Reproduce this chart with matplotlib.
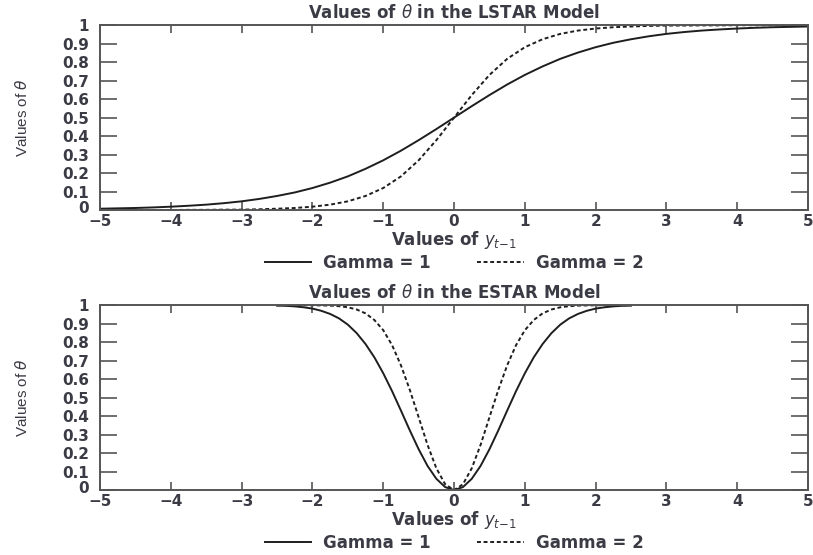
import numpy as np
import matplotlib
matplotlib.use("Agg")
import matplotlib.pyplot as plt
from matplotlib.transforms import ScaledTranslation

# LSTAR: values, x from -5 to 5 in steps of 0.25
lstar_x = np.linspace(-5, 5, 41)
lstar_g1 = [0.007, 0.009, 0.011, 0.014, 0.018, 0.023, 0.029, 0.037, 0.047, 0.060,
            0.076, 0.095, 0.119, 0.148, 0.182, 0.223, 0.269, 0.321, 0.378, 0.438,
            0.500,
            0.562, 0.622, 0.679, 0.731, 0.777, 0.818, 0.852, 0.881, 0.905, 0.924,
            0.940, 0.953, 0.963, 0.971, 0.977, 0.982, 0.986, 0.989, 0.991, 0.993]
lstar_g2 = [0.000, 0.000, 0.000, 0.000, 0.000, 0.001, 0.001, 0.002, 0.002, 0.004,
            0.007, 0.011, 0.018, 0.029, 0.047, 0.076, 0.119, 0.182, 0.269, 0.378,
            0.500,
            0.622, 0.731, 0.818, 0.881, 0.924, 0.953, 0.971, 0.982, 0.989, 0.993,
            0.996, 0.998, 0.998, 0.999, 0.999, 1.000, 1.000, 1.000, 1.000, 1.000]

# ESTAR: values, x from -2.5 to 2.5 in steps of 0.125
estar_x = np.linspace(-2.5, 2.5, 41)
estar_g1 = [0.998, 0.997, 0.994, 0.989, 0.982, 0.970, 0.953, 0.929, 0.895, 0.849,
            0.790, 0.718, 0.632, 0.535, 0.430, 0.323, 0.221, 0.131, 0.061, 0.016,
            0.000,
            0.016, 0.061, 0.131, 0.221, 0.323, 0.430, 0.535, 0.632, 0.718, 0.790,
            0.849, 0.895, 0.929, 0.953, 0.970, 0.982, 0.989, 0.994, 0.997, 0.998]
estar_g2 = [1.000, 1.000, 1.000, 1.000, 1.000, 0.999, 0.998, 0.995, 0.989, 0.977,
            0.956, 0.920, 0.865, 0.784, 0.675, 0.542, 0.394, 0.245, 0.118, 0.031,
            0.000,
            0.031, 0.118, 0.245, 0.394, 0.542, 0.675, 0.784, 0.865, 0.920, 0.956,
            0.977, 0.989, 0.995, 0.998, 0.999, 1.000, 1.000, 1.000, 1.000, 1.000]

xticks = [-5, -4, -3, -2, -1, 0, 1, 2, 3, 4, 5]
xtick_labels = ["\u22125", "\u22124", "\u22123", "\u22122", "\u22121", "0", "1", "2", "3", "4", "5"]
yticks = [0, 0.1, 0.2, 0.3, 0.4, 0.5, 0.6, 0.7, 0.8, 0.9, 1]
ytick_labels = ["0", "0.1", "0.2", "0.3", "0.4", "0.5", "0.6", "0.7", "0.8", "0.9", "1"]

txt = "#3b3b45"
line_col = "#1e1e1e"
plt.rcParams["font.family"] = ["DejaVu Sans"]
plt.rcParams["mathtext.fontset"] = "dejavusans"

fig = plt.figure(figsize=(8.13, 5.55), dpi=100)
ax_top = fig.add_axes([0.123, 0.6216, 0.871, 0.333])
ax_bot = fig.add_axes([0.123, 0.117, 0.871, 0.333])


def style(ax, title):
    ax.set_xlim(-5, 5)
    ax.set_ylim(0, 1)
    ax.set_xticks(xticks)
    ax.set_xticklabels(xtick_labels)
    ax.set_yticks(yticks)
    ax.set_yticklabels(ytick_labels)
    ax.tick_params(axis="x", direction="in", length=6, width=1.2, color="#555555",
                   top=True, pad=3, labelsize=11, labelcolor=txt)
    ax.tick_params(axis="y", direction="in", length=12, width=1.2, color="#555555",
                   right=True, pad=8, labelsize=11, labelcolor=txt)
    for lab in ax.get_xticklabels() + ax.get_yticklabels():
        lab.set_fontweight("bold")
    # nudge the 0 at the origin up a little so it clears the -5 below it
    zero = ax.get_yticklabels()[0]
    zero.set_transform(zero.get_transform() + ScaledTranslation(0, 2.5 / 72, fig.dpi_scale_trans))
    for sp in ax.spines.values():
        sp.set_color("#555555")
        sp.set_linewidth(1.4)
    ax.set_title(title, fontsize=12, fontweight="bold", color=txt, pad=5)
    ax.set_xlabel(r"Values of $y_{t\!-\!1}$", fontsize=12, fontweight="bold", color=txt)
    ax.xaxis.set_label_coords(0.5, -0.16)
    ax.xaxis.label.set_va("center")
    ax.set_ylabel(r"Values of $\theta$", fontsize=11, color=txt,
                  family=["Liberation Sans", "DejaVu Sans"])
    ax.yaxis.set_label_coords(-0.110, 0.5)
    ax.yaxis.label.set_va("center")
    leg = ax.legend(loc="center", bbox_to_anchor=(0.5, -0.285), ncol=2,
                    frameon=False, fontsize=12, handlelength=2.8,
                    columnspacing=2.8, handletextpad=0.7)
    for t in leg.get_texts():
        t.set_color(txt)
        t.set_fontweight("bold")


ax_top.plot(lstar_x, lstar_g1, color=line_col, lw=1.4, label="Gamma = 1")
ax_top.plot(lstar_x, lstar_g2, color=line_col, lw=1.4, ls=(0, (2.0, 1.4)), label="Gamma = 2")
style(ax_top, r"Values of $\theta$ in the LSTAR Model")

ax_bot.plot(estar_x, estar_g1, color=line_col, lw=1.4, label="Gamma = 1")
ax_bot.plot(estar_x, estar_g2, color=line_col, lw=1.4, ls=(0, (2.0, 1.4)), label="Gamma = 2")
style(ax_bot, r"Values of $\theta$ in the ESTAR Model")

fig.savefig("out.png", dpi=100)
